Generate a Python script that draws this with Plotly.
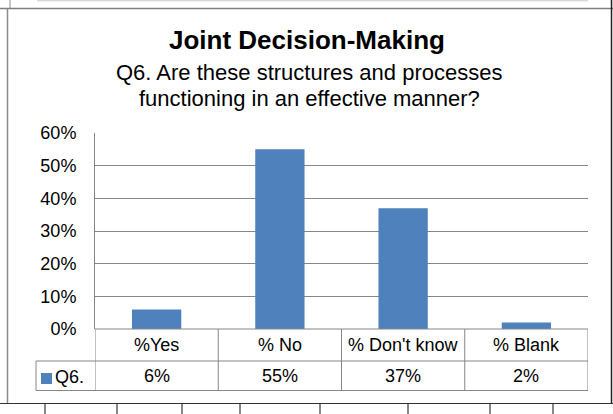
import plotly.graph_objects as go

# Survey responses for Q6
categories = ["%Yes", "% No", "% Don't know", "% Blank"]
values = [6, 55, 37, 2]
series_name = "Q6."
y_ticks = [0, 10, 20, 30, 40, 50, 60]
y_tick_labels = [f"{t}%" for t in y_ticks]

W, H = 613, 414
BLUE = "#4F81BD"
GRID = "#868686"
FONT = "Liberation Sans, Arial, sans-serif"
TXT = 18


def px(x):
    return x / W


def py(y):
    return 1 - y / H


fig = go.Figure()
fig.add_trace(go.Bar(
    x=categories, y=values, name=series_name,
    marker=dict(color=BLUE, line=dict(width=0)),
    showlegend=False, hoverinfo="x+y",
))

shapes = []


def line(x0, y0, x1, y1, color=GRID, width=1, xref="paper"):
    shapes.append(dict(type="line", xref=xref, yref="paper",
                       x0=x0, y0=y0, x1=x1, y1=y1,
                       line=dict(color=color, width=width)))


# chart-area frame and surrounding sheet lines
line(px(37), py(0.8), px(588), py(0.8), color="#c8c8c8")
line(px(10), py(0), px(10), py(8.5), color="#8c8c8c")
line(0, py(8.5), 1, py(8.5), color="#7f7f7f", width=1.5)
line(px(7.5), py(8.5), px(7.5), py(403.5), color="#8c8c8c", width=1.5)
line(px(611.5), py(0), px(611.5), py(403.5), color="#222222", width=1.5)
line(0, py(403.5), 1, py(403.5), color="#333333", width=1)
for tx in [45, 117, 182, 240, 320, 408, 490, 553]:
    line(px(tx), py(403.5), px(tx), py(414), color="#111111", width=1)

# data table grid
n = len(categories)
line(-0.5, py(329), n - 0.5, py(329), xref="x")
line(px(36), py(361), px(36), py(390.5))
line(px(36), py(361), px(588), py(361))
line(px(36), py(390.5), px(588), py(390.5))
for b in range(n + 1):
    line(b - 0.5, py(329), b - 0.5, py(390.5), xref="x")

annotations = []
for cat, v in zip(categories, values):
    annotations.append(dict(x=cat, xref="x", y=py(345), yref="paper",
                            text=cat, showarrow=False, yanchor="middle",
                            font=dict(family=FONT, size=TXT, color="#000000")))
    annotations.append(dict(x=cat, xref="x", y=py(376), yref="paper",
                            text=f"{v}%", showarrow=False, yanchor="middle",
                            font=dict(family=FONT, size=TXT, color="#000000")))

# legend key in the table
shapes.append(dict(type="rect", xref="paper", yref="paper",
                   x0=px(41), x1=px(52), y0=py(384), y1=py(373),
                   fillcolor=BLUE, line=dict(width=0)))
annotations.append(dict(x=px(53), xref="paper", y=py(377), yref="paper",
                        text=series_name, showarrow=False,
                        xanchor="left", yanchor="middle",
                        font=dict(family=FONT, size=TXT, color="#000000")))

# titles
annotations.append(dict(x=px(307), y=py(40), xref="paper", yref="paper",
                        text="<b>Joint Decision-Making</b>", showarrow=False,
                        yanchor="middle",
                        font=dict(family=FONT, size=26, color="#000000")))
annotations.append(dict(x=px(309), y=py(72), xref="paper", yref="paper",
                        text="Q6. Are these structures and processes",
                        showarrow=False, yanchor="middle",
                        font=dict(family=FONT, size=22, color="#000000")))
annotations.append(dict(x=px(309), y=py(99), xref="paper", yref="paper",
                        text="functioning in an effective manner?",
                        showarrow=False, yanchor="middle",
                        font=dict(family=FONT, size=22, color="#000000")))

fig.update_layout(
    width=W, height=H, autosize=False,
    margin=dict(l=0, r=0, t=0, b=0, pad=0, autoexpand=False),
    paper_bgcolor="white", plot_bgcolor="white",
    bargap=0.6,
    font=dict(family=FONT, size=TXT, color="#000000"),
    xaxis=dict(domain=[px(95), px(588)], showticklabels=False,
               showgrid=False, zeroline=False, showline=False,
               automargin=False,
               range=[-0.5, n - 0.5], fixedrange=True),
    yaxis=dict(domain=[py(329), py(133)], range=[0, 60],
               tickmode="array", tickvals=y_ticks, ticktext=y_tick_labels,
               showgrid=True, gridcolor=GRID, gridwidth=1,
               zeroline=False, showline=True, linecolor=GRID, linewidth=1,
               ticks="", ticklabelstandoff=14, automargin=False,
               tickfont=dict(family=FONT, size=TXT, color="#000000"),
               fixedrange=True),
    shapes=shapes,
    annotations=annotations,
)

fig.write_html("out.html", config={"displayModeBar": False})
